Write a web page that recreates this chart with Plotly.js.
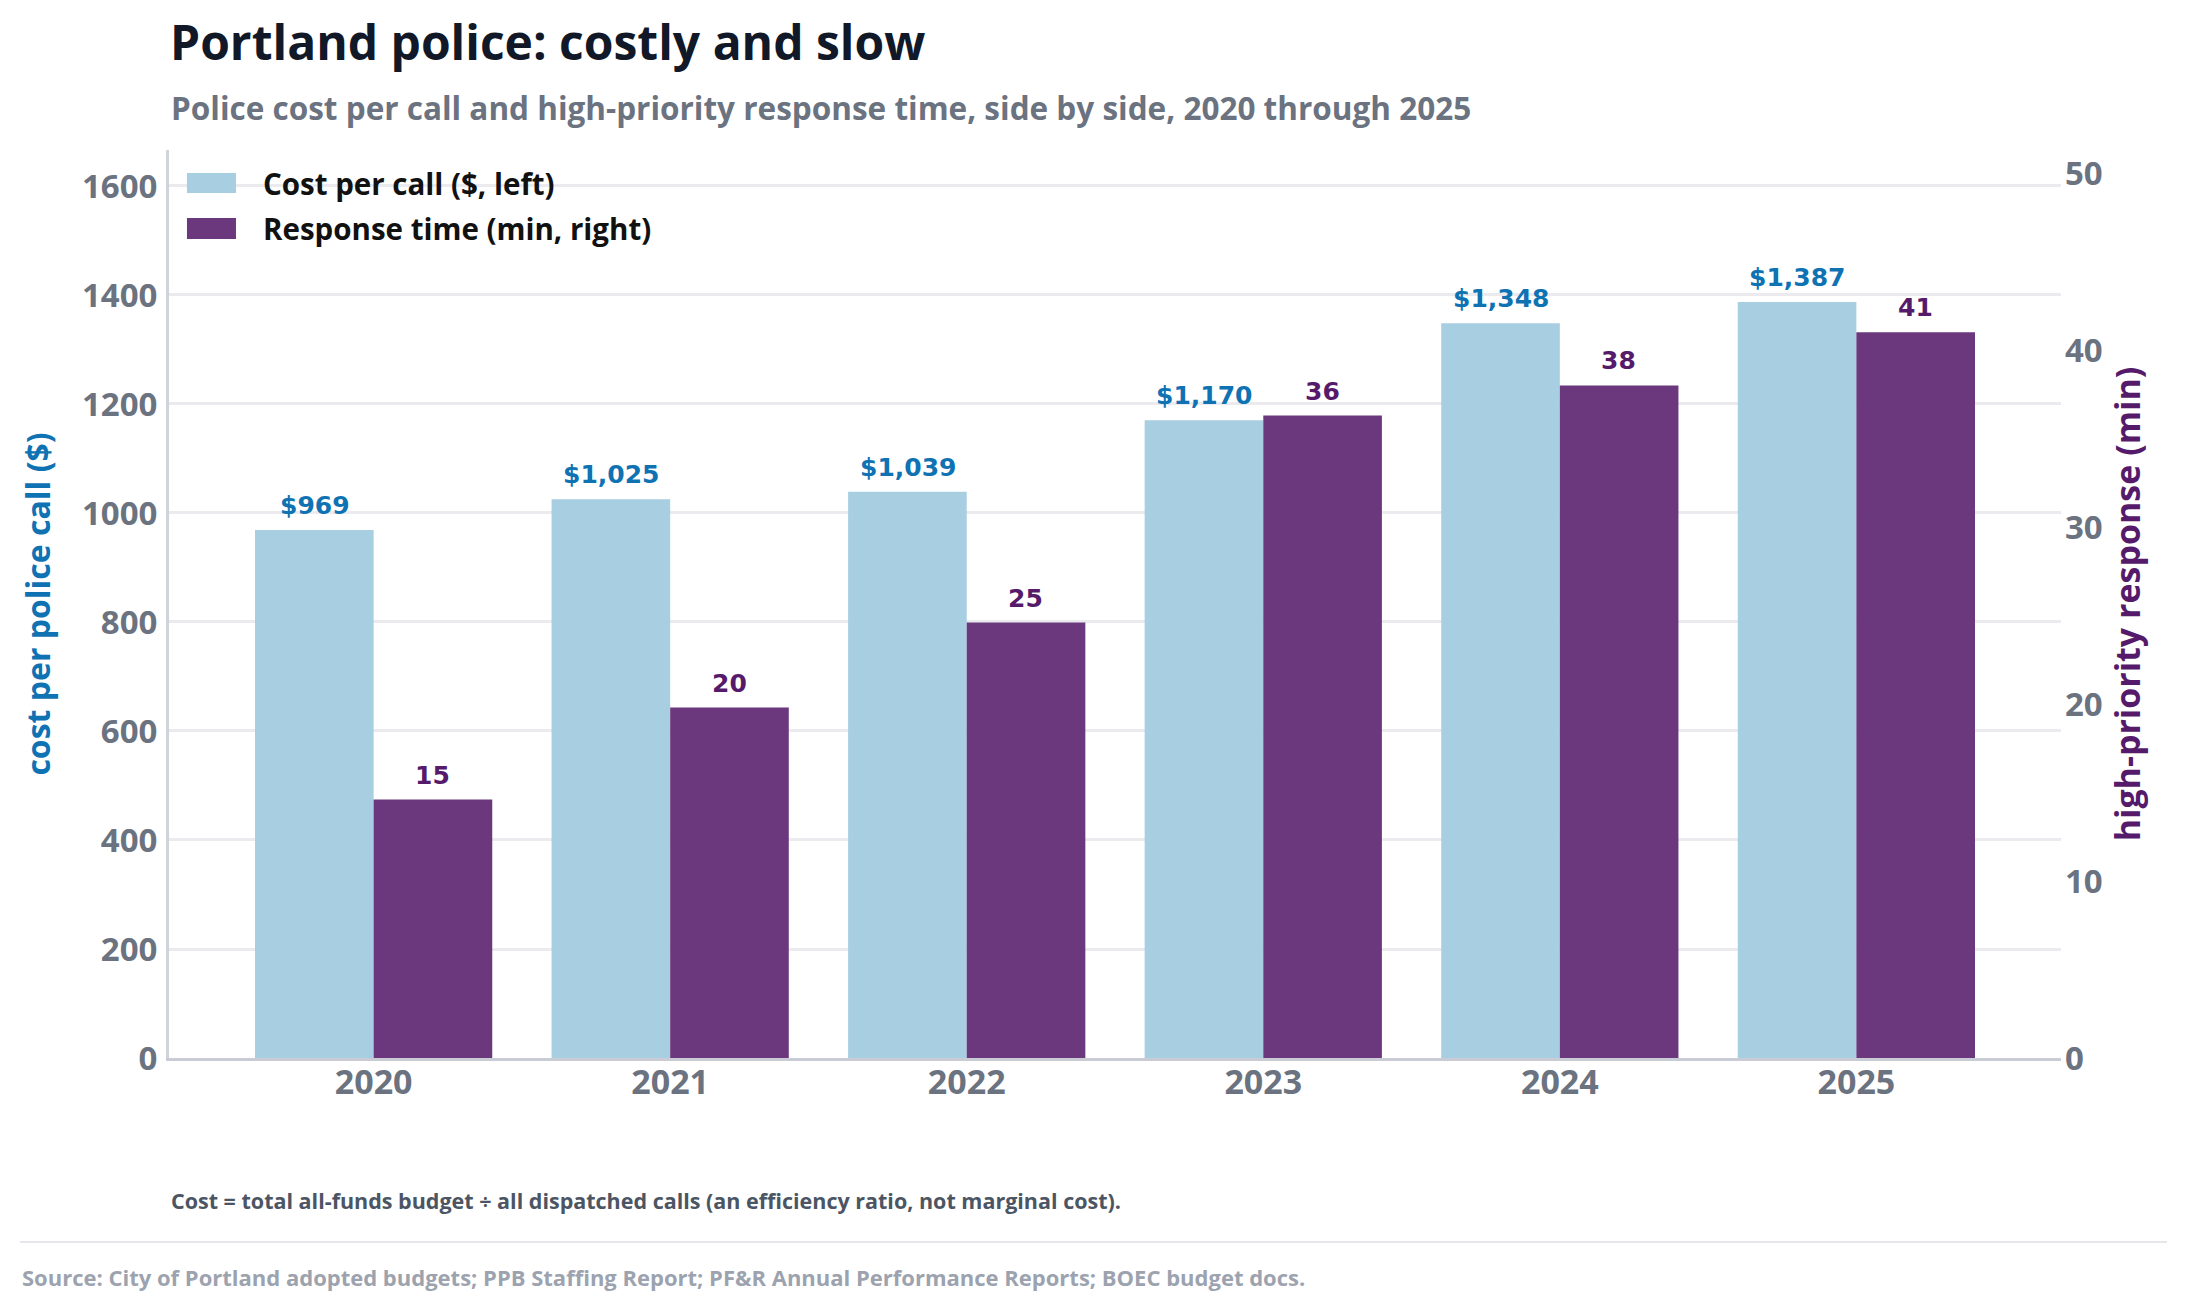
<!DOCTYPE html>
<html>
<head>
<meta charset="utf-8">
<script src="https://cdn.plot.ly/plotly-3.0.1.min.js"></script>
<style>
  html, body { margin: 0; padding: 0; background: white; }
  #chart { width: 2187px; height: 1307px; }
</style>
</head>
<body>
<div id="chart"></div>
<script>
const years = ['2020', '2021', '2022', '2023', '2024', '2025'];
const costPerCall = [969, 1025, 1039, 1170, 1348, 1387];
const responseMin = [14.6, 19.8, 24.6, 36.3, 38.0, 41.0];
const seriesNames = ['Cost per call ($, left)', 'Response time (min, right)'];

const FONT = '"Open Sans", Lato, "Noto Sans", sans-serif';
const LABEL_FONT = '"DejaVu Sans", Verdana, sans-serif';
const BLUE_BAR = '#a8cee2';
const PURPLE_BAR = '#6b387e';
const BLUE_TEXT = '#0f72b3';
const PURPLE_TEXT = '#561a6b';
const GRAY = '#6b7280';

const costTrace = {
  type: 'bar',
  x: years,
  y: costPerCall,
  name: seriesNames[0],
  yaxis: 'y',
  width: 0.4,
  offset: -0.4,
  marker: { color: BLUE_BAR },
  showlegend: false,
  hoverinfo: 'skip'
};

const responseTrace = {
  type: 'bar',
  x: years,
  y: responseMin,
  name: seriesNames[1],
  yaxis: 'y2',
  width: 0.4,
  offset: 0,
  marker: { color: PURPLE_BAR },
  showlegend: false,
  hoverinfo: 'skip'
};

// value labels above each bar (x = category index)
const labelFont = (color) => ({ family: LABEL_FONT, size: 25, color: color, weight: 700 });
const annotations = [];
years.forEach((yr, i) => {
  annotations.push({
    x: i, y: costPerCall[i], xref: 'x', yref: 'y',
    text: '$' + costPerCall[i].toLocaleString('en-US'),
    showarrow: false, xanchor: 'center', yanchor: 'bottom',
    xshift: -59, yshift: 8,
    font: labelFont(BLUE_TEXT)
  });
  annotations.push({
    x: i, y: responseMin[i], xref: 'x', yref: 'y2',
    text: Math.round(responseMin[i]).toString(),
    showarrow: false, xanchor: 'center', yanchor: 'bottom',
    xshift: 59, yshift: 8,
    font: labelFont(PURPLE_TEXT)
  });
});

// hand-drawn legend (wide swatches)
const legendShapes = [];
const legendColors = [BLUE_BAR, PURPLE_BAR];
const legendRows = [[0.9747, 0.9526], [0.9251, 0.9020]];
seriesNames.forEach((name, i) => {
  legendShapes.push({
    type: 'rect', xref: 'paper', yref: 'paper',
    x0: 0.0095, x1: 0.0354, y0: legendRows[i][1], y1: legendRows[i][0],
    fillcolor: legendColors[i], line: { width: 0 }
  });
  annotations.push({
    xref: 'paper', yref: 'paper',
    x: 0.0486, y: (legendRows[i][0] + legendRows[i][1]) / 2,
    text: name, showarrow: false, xanchor: 'left', yanchor: 'middle',
    font: { family: FONT, size: 29.5, color: '#111111', weight: 700 }
  });
});

annotations.push({
  xref: 'paper', yref: 'paper', x: 0, y: 1.0463,
  xanchor: 'left', yanchor: 'middle', showarrow: false,
  text: 'Police cost per call and high-priority response time, side by side, 2020 through 2025',
  font: { family: FONT, size: 31.5, color: GRAY, weight: 700 }
});
annotations.push({
  xref: 'paper', yref: 'paper', x: 0, y: -0.1564,
  xanchor: 'left', yanchor: 'middle', showarrow: false,
  text: 'Cost = total all-funds budget ÷ all dispatched calls (an efficiency ratio, not marginal cost).',
  font: { family: FONT, size: 21.5, color: '#4b5563', weight: 700 }
});
annotations.push({
  xref: 'paper', yref: 'paper', x: -0.0788, y: -0.2412,
  xanchor: 'left', yanchor: 'middle', showarrow: false,
  text: 'Source: City of Portland adopted budgets; PPB Staffing Report; PF&R Annual Performance Reports; BOEC budget docs.',
  font: { family: FONT, size: 22, color: '#9ca3af', weight: 700 }
});

const separator = {
  type: 'line', xref: 'paper', yref: 'paper',
  x0: -0.0788, x1: 1.056, y0: -0.2026, y1: -0.2026,
  line: { color: '#e5e7eb', width: 2 }
};

const layout = {
  width: 2187,
  height: 1307,
  margin: { l: 169, r: 126, t: 150, b: 249 },
  paper_bgcolor: 'white',
  plot_bgcolor: 'white',
  font: { family: FONT, color: GRAY },
  title: {
    text: 'Portland police: costly and slow',
    x: 170 / 2187, xanchor: 'left', xref: 'container',
    y: 1 - 43 / 1307, yanchor: 'middle', yref: 'container',
    font: { family: FONT, size: 48, color: '#111827', weight: 700 }
  },
  showlegend: false,
  xaxis: {
    type: 'category',
    range: [-0.69, 5.69],
    showgrid: false,
    showline: true,
    linecolor: '#c9ccd4',
    linewidth: 3,
    ticks: '',
    ticklen: 0,
    ticklabelstandoff: -8,
    tickfont: { family: FONT, size: 34, color: GRAY, weight: 700 },
    zeroline: false
  },
  yaxis: {
    range: [0, 1666],
    dtick: 200,
    showgrid: true,
    gridcolor: '#eaeaef',
    gridwidth: 3,
    showline: true,
    linecolor: '#cfd3da',
    linewidth: 3,
    zeroline: false,
    ticks: '',
    ticklen: 0,
    ticklabelstandoff: 2,
    tickfont: { family: FONT, size: 33, color: GRAY, weight: 700 },
    title: {
      text: 'cost per police call ($)',
      standoff: 22,
      font: { family: FONT, size: 32, color: BLUE_TEXT, weight: 700 }
    }
  },
  yaxis2: {
    overlaying: 'y',
    side: 'right',
    range: [0, 51.3],
    dtick: 10,
    showgrid: false,
    showline: false,
    zeroline: false,
    ticks: '',
    ticklen: 0,
    ticklabelstandoff: 3,
    tickfont: { family: FONT, size: 33, color: GRAY, weight: 700 },
    title: {
      text: 'high-priority response (min)',
      standoff: 14,
      font: { family: FONT, size: 34, color: PURPLE_TEXT, weight: 700 }
    }
  },
  shapes: legendShapes.concat([separator]),
  annotations: annotations
};

Plotly.newPlot('chart', [costTrace, responseTrace], layout, { displayModeBar: false, staticPlot: true });
</script>
</body>
</html>
